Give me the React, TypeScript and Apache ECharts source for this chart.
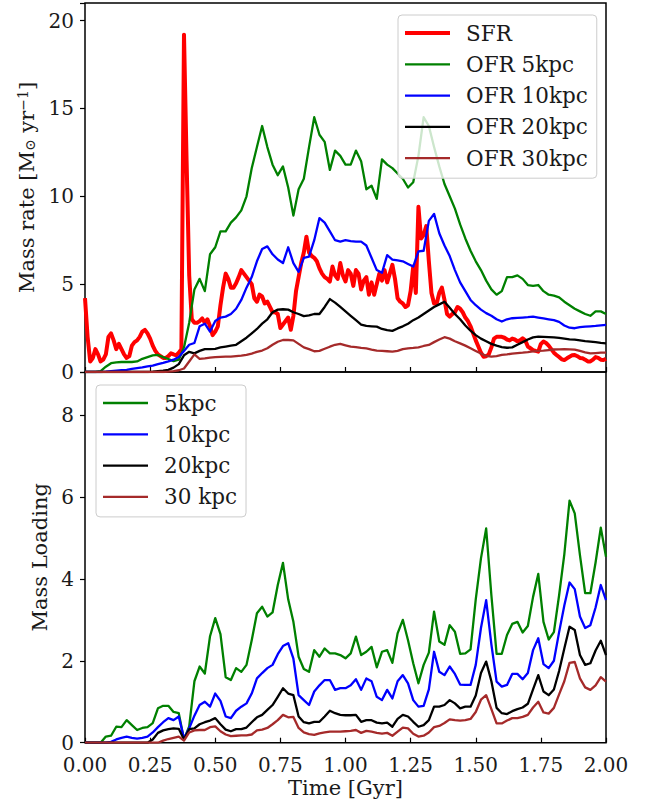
import React, { useEffect, useRef } from 'react';
import * as echarts from 'echarts';

const FONT = "'DejaVu Serif', 'Liberation Serif', serif";
const TXT = '#1a1a1a';

// SFR sampled every 0.01 Gyr (t = 0.00 ... 2.00)
const sfrStep = 0.01;
const sfr = [
  4.2, 2.0, 0.6, 0.8, 1.3, 1.0, 0.6, 0.7, 1.0, 2.0,
  2.2, 1.8, 1.3, 1.6, 1.3, 1.0, 0.8, 0.9, 1.5, 1.7,
  1.8, 2.0, 2.3, 2.4, 2.2, 1.9, 1.5, 1.2, 1.0, 0.9,
  0.8, 0.8, 0.9, 1.06, 1.0, 0.95, 1.1, 1.3, 19.2, 12.0,
  5.5, 3.0, 2.8, 2.8, 2.9, 3.05, 2.8, 3.0, 2.6, 2.1,
  2.3, 2.6, 3.8, 4.8, 5.6, 5.3, 4.8, 4.8, 5.05, 5.4,
  5.8, 5.6, 5.4, 5.2, 5.0, 4.2, 4.0, 4.4, 4.3, 3.9,
  4.0, 3.7, 3.4, 3.4, 3.3, 2.5, 2.7, 2.9, 3.1, 2.4,
  3.2, 4.6, 5.4, 6.2, 6.8, 7.7, 6.8, 6.6, 6.5, 6.3,
  5.9, 5.6, 5.4, 5.3, 5.15, 6.0, 5.5, 5.3, 6.2, 5.5,
  5.15, 5.8, 5.6, 4.9, 5.8, 5.6, 4.7, 5.2, 5.4, 4.4,
  5.1, 4.4, 5.0, 5.6, 5.2, 5.8, 5.1, 5.6, 6.1, 5.3,
  4.2, 4.0, 3.9, 3.7, 3.8, 4.6, 6.0, 4.5, 9.4, 7.6,
  7.8, 8.3, 6.3, 4.5, 3.9, 3.9, 4.5, 4.8, 4.1, 3.3,
  3.15, 3.3, 3.4, 3.7, 3.6, 3.4, 3.1, 2.9, 2.6, 2.2,
  1.8, 1.45, 1.1, 0.87, 0.9, 1.0, 1.4, 1.9, 2.0, 2.0,
  2.0, 1.95, 1.85, 1.8, 1.9, 1.85, 1.75, 1.8, 1.92, 1.8,
  1.45, 1.35, 1.25, 1.2, 1.16, 1.6, 1.73, 1.65, 1.5, 1.3,
  1.1, 0.97, 0.85, 0.72, 0.68, 0.78, 0.87, 0.95, 0.97, 0.9,
  0.8, 0.78, 0.7, 0.6, 0.6, 0.7, 0.85, 0.8, 0.7, 0.68,
  0.75,
];

// Other series sampled every 0.02 Gyr (t = 0.00 ... 2.00)
const step = 0.02;
const ofr5 = [
  0, 0, 0, 0.05, 0.3, 0.5, 0.55, 0.57, 0.57, 0.57,
  0.6, 0.75, 0.85, 0.95, 0.97, 0.85, 0.74, 0.62, 0.7, 1.4,
  2.8, 4.7, 5.3, 4.6, 6.7, 7.1, 8.0, 8.0, 8.5, 8.8,
  9.2, 10.0, 11.6, 12.8, 14.0, 12.8, 11.8, 11.2, 11.7, 10.5,
  8.9, 10.4, 11.0, 12.8, 14.5, 13.5, 13.1, 11.5, 12.6, 12.3,
  11.8, 11.8, 12.6, 12.0, 10.4, 10.6, 9.85, 12.1, 11.8, 11.6,
  11.3, 11.0, 10.5, 10.8, 12.3, 14.5, 14.0, 12.8, 11.7, 10.7,
  10.0, 9.3, 8.4, 7.6, 6.9, 6.3, 5.8, 5.2, 4.7, 4.4,
  4.6, 5.4, 5.4, 5.5, 5.3, 4.95, 4.9, 4.95, 4.6, 4.4,
  4.35, 4.25, 4.0, 3.8, 3.6, 3.45, 3.3, 3.2, 3.45, 3.45,
  3.3,
];
const ofr10 = [
  0, 0, 0, 0, 0.02, 0.05, 0.08, 0.1, 0.12, 0.18,
  0.22, 0.26, 0.32, 0.36, 0.45, 0.52, 0.6, 0.7, 0.85, 1.2,
  1.55, 1.65, 2.6, 2.75, 2.3, 2.9, 3.1, 3.15, 3.3, 3.6,
  4.1, 4.8, 5.4, 6.3, 7.0, 7.15, 6.7, 6.4, 6.2, 7.1,
  6.2, 5.7, 6.5, 6.57, 7.5, 8.76, 8.5, 8.0, 7.5, 7.42,
  7.5, 7.45, 7.42, 7.42, 7.2, 6.5, 5.8, 5.65, 6.65, 6.4,
  6.35, 6.3, 6.15, 6.0, 6.86, 6.9, 8.6, 9.0, 7.9, 7.2,
  6.6, 5.8, 5.1, 4.6, 4.1, 3.8, 3.55, 3.35, 3.2, 3.0,
  2.87, 3.0, 3.06, 3.08, 3.1, 3.12, 3.15, 3.1, 3.05, 3.0,
  2.95, 2.85, 2.65, 2.52, 2.49, 2.55, 2.58, 2.6, 2.62, 2.65,
  2.68,
];
const ofr20 = [
  0, 0, 0, 0, 0, 0, 0, 0, 0, 0,
  0, 0, 0, 0.02, 0.05, 0.08, 0.12, 0.25, 0.45, 0.95,
  1.15, 1.06, 1.2, 1.3, 1.3, 1.32, 1.4, 1.45, 1.5, 1.55,
  1.75, 1.95, 2.2, 2.45, 2.75, 3.0, 3.4, 3.55, 3.57, 3.55,
  3.4, 3.3, 3.18, 3.22, 3.3, 3.3, 3.7, 4.15, 3.95, 3.7,
  3.45, 3.2, 2.95, 2.7, 2.62, 2.6, 2.58, 2.45, 2.38, 2.34,
  2.48, 2.6, 2.75, 2.95, 3.1, 3.3, 3.5, 3.7, 3.85, 4.0,
  3.65, 3.3, 3.0, 2.65, 2.35, 2.1, 1.9, 1.75, 1.6, 1.5,
  1.42, 1.38, 1.4, 1.55, 1.7, 1.85, 1.97, 2.01, 2.0, 1.99,
  1.97, 1.94, 1.9, 1.86, 1.84, 1.8, 1.76, 1.73, 1.7, 1.66,
  1.63,
];
const ofr30 = [
  0, 0, 0, 0, 0, 0, 0, 0, 0, 0,
  0, 0, 0, 0, 0, 0, 0.02, 0.05, 0.1, 0.2,
  0.6, 1.0, 0.75, 0.78, 0.82, 0.85, 0.86, 0.87, 0.87, 0.9,
  0.93, 0.97, 1.05, 1.15, 1.22, 1.35, 1.55, 1.72, 1.82, 1.82,
  1.8, 1.6, 1.4, 1.3, 1.18, 1.2, 1.32, 1.44, 1.55, 1.6,
  1.52, 1.44, 1.42, 1.37, 1.35, 1.28, 1.22, 1.2, 1.18, 1.16,
  1.2, 1.3, 1.35, 1.37, 1.4, 1.48, 1.54, 1.7, 1.85, 1.98,
  1.9, 1.75, 1.63, 1.5, 1.35, 1.2, 1.05, 0.92, 0.87, 0.9,
  0.97, 1.0, 1.05, 1.08, 1.1, 1.13, 1.17, 1.2, 1.22, 1.25,
  1.28, 1.29, 1.3, 1.29, 1.27, 1.2, 1.12, 1.06, 1.08, 1.1,
  1.1,
];

const load5 = [
  0, 0, 0, 0, 0.15, 0.17, 0.39, 0.38, 0.55, 0.43,
  0.31, 0.36, 0.38, 0.48, 0.84, 0.9, 0.9, 0.75, 0.72, 0.08,
  0.4, 1.5, 1.86, 1.69, 2.6, 3.04, 2.65, 1.6, 1.53, 1.82,
  1.73, 1.9, 2.5, 3.16, 3.32, 3.08, 3.18, 3.85, 4.39, 3.5,
  2.95, 2.1, 1.8, 1.73, 2.26, 2.1, 2.3, 2.18, 2.18, 2.14,
  2.06, 2.18, 2.59, 2.14, 2.22, 2.34, 1.84, 2.22, 2.26, 1.95,
  2.67, 3.0, 2.5, 1.94, 1.45, 1.9, 2.2, 3.2, 2.47, 2.39,
  2.87, 2.71, 2.17, 2.18, 2.28, 3.5, 4.5, 5.23, 3.6, 2.17,
  2.17, 2.63, 2.9, 2.95, 2.69, 2.85, 3.56, 4.12, 2.95, 2.52,
  2.7, 3.6, 4.6, 5.91, 5.6, 4.58, 3.65, 3.65, 4.4, 5.25,
  4.54,
];
const load10 = [
  0, 0, 0, 0, 0, 0.02, 0.08, 0.12, 0.15, 0.12,
  0.1, 0.12, 0.15, 0.25, 0.38, 0.5, 0.6, 0.55, 0.64, 0.1,
  0.35, 0.66, 0.92, 1.0, 0.88, 1.2, 1.02, 0.64, 0.6, 0.78,
  0.88, 0.96, 1.2, 1.57, 1.7, 1.82, 1.9, 2.16, 2.36, 2.43,
  2.05, 1.16, 1.04, 0.92, 1.25, 1.4, 1.53, 1.53, 1.29, 1.33,
  1.33, 1.4, 1.55, 1.29, 1.57, 1.5, 1.12, 1.04, 1.29, 1.08,
  1.5, 1.65, 1.45, 1.04, 0.88, 0.9, 1.3, 2.22, 1.73, 1.65,
  1.86, 1.68, 1.42, 1.41, 1.41, 1.9, 2.8, 3.48, 2.4, 1.49,
  1.37, 1.41, 1.68, 1.68, 1.55, 1.7, 2.26, 2.55, 1.92, 1.82,
  2.0, 2.7, 3.35, 3.91, 3.75, 3.08, 2.8, 2.87, 3.3, 3.85,
  3.48,
];
const load20 = [
  0, 0, 0, 0, 0, 0, 0, 0, 0, 0,
  0, 0, 0, 0.08, 0.24, 0.3, 0.33, 0.35, 0.34, 0.08,
  0.33, 0.35, 0.45, 0.5, 0.54, 0.6, 0.45, 0.32, 0.28, 0.33,
  0.33, 0.37, 0.5, 0.62, 0.68, 0.8, 0.92, 1.12, 1.33, 1.2,
  1.16, 0.64, 0.5, 0.47, 0.51, 0.51, 0.64, 0.78, 0.72, 0.68,
  0.67, 0.67, 0.68, 0.51, 0.55, 0.55, 0.49, 0.47, 0.49, 0.39,
  0.58, 0.68, 0.64, 0.51, 0.39, 0.43, 0.55, 0.88, 0.88, 0.92,
  1.04, 0.96, 0.84, 0.88, 0.88, 1.15, 1.7, 1.98, 1.5, 0.85,
  0.72, 0.7, 0.77, 0.82, 0.86, 0.95, 1.3, 1.65, 1.25, 1.16,
  1.3, 1.75, 2.3, 2.83, 2.75, 2.14, 1.9, 1.94, 2.25, 2.49,
  2.14,
];
const load30 = [
  0, 0, 0, 0, 0, 0, 0, 0, 0, 0,
  0, 0, 0, 0, 0, 0.05, 0.09, 0.12, 0.15, 0.05,
  0.25, 0.3, 0.31, 0.31, 0.38, 0.4, 0.28, 0.2, 0.16, 0.17,
  0.18, 0.18, 0.2, 0.3, 0.32, 0.36, 0.45, 0.55, 0.68, 0.62,
  0.63, 0.36, 0.25, 0.21, 0.19, 0.23, 0.25, 0.27, 0.27, 0.27,
  0.28, 0.29, 0.31, 0.24, 0.29, 0.27, 0.24, 0.22, 0.24, 0.17,
  0.27, 0.37, 0.35, 0.22, 0.15, 0.17, 0.25, 0.38, 0.41, 0.48,
  0.57, 0.55, 0.54, 0.55, 0.58, 0.75, 1.05, 1.16, 0.82, 0.47,
  0.47, 0.54, 0.6, 0.6, 0.63, 0.68, 0.86, 1.0, 0.74, 0.71,
  0.85, 1.18, 1.5, 1.95, 1.97, 1.57, 1.35, 1.29, 1.4, 1.6,
  1.49,
];

const topNames = ['SFR', 'OFR 5kpc', 'OFR 10kpc', 'OFR 20kpc', 'OFR 30kpc'];
const bottomNames = ['5kpc', '10kpc', '20kpc', '30 kpc'];
const colors = ['#ff0000', '#008000', '#0000ff', '#000000', '#a52a2a'];
const lineColors = ['#008000', '#0000ff', '#000000', '#a52a2a'];

const THIN_ICON = 'path://M0,0H45V2.3H0Z';
const THICK_ICON = 'path://M0,0H45V4H0Z';

const toPairs = (vals: number[], dt: number) =>
  vals.map((v, i) => [+(i * dt).toFixed(3), v]);

export default function App() {
  const ref = useRef<HTMLDivElement>(null);
  useEffect(() => {
    document.body.style.margin = '0';
    if (!ref.current) return;
    const chart = echarts.init(ref.current, undefined, { renderer: 'svg' });

    const tickIn = { inside: true, length: 5, lineStyle: { color: '#000', width: 1.2 } };
    const tickOut = { inside: false, length: 5, lineStyle: { color: '#000', width: 1.2 } };
    const labelStyle = { fontFamily: FONT, fontSize: 20, color: TXT, lineHeight: 16 };
    const legendBase = {
      orient: 'vertical' as const,
      itemWidth: 45,
      itemHeight: 4,
      itemGap: 9.3,
      backgroundColor: 'rgba(255,255,255,0.8)',
      borderColor: '#cccccc',
      borderWidth: 1,
      borderRadius: 4,
      textStyle: { fontFamily: FONT, fontSize: 21.5, color: TXT, padding: [0, 0, 0, 11] },
    };
    const nameStyle = { fontFamily: FONT, fontSize: 21, color: TXT };

    const topData = [sfr, ofr5, ofr10, ofr20, ofr30];
    const botData = [load5, load10, load20, load30];

    const option: any = {
      animation: false,
      backgroundColor: '#ffffff',
      grid: [
        { left: 85, top: 3, width: 521, height: 369, show: true, borderColor: '#000', borderWidth: 1.5, backgroundColor: 'transparent' },
        { left: 85, top: 372, width: 521, height: 370.7, show: true, borderColor: '#000', borderWidth: 1.5, backgroundColor: 'transparent' },
      ],
      xAxis: [
        {
          type: 'value', gridIndex: 0, min: 0, max: 2, interval: 0.25,
          axisLine: { show: false }, axisTick: tickIn, axisLabel: { show: false }, splitLine: { show: false },
        },
        {
          type: 'value', gridIndex: 1, min: 0, max: 2, interval: 0.25,
          name: 'Time [Gyr]', nameLocation: 'middle', nameGap: 35,
          nameTextStyle: nameStyle,
          axisLine: { show: false }, axisTick: tickIn,
          axisLabel: { ...labelStyle, margin: 14, formatter: (v: number) => v.toFixed(2) },
          splitLine: { show: false },
        },
      ],
      yAxis: [
        {
          type: 'value', gridIndex: 0, min: 0, max: 21, interval: 5,
          name: 'Mass rate [M{sub|⊙} yr{sup|−1}]', nameLocation: 'middle', nameGap: 48, nameRotate: 90,
          nameTextStyle: {
            ...nameStyle,
            rich: {
              sub: { fontFamily: FONT, fontSize: 14, color: TXT, verticalAlign: 'bottom' },
              sup: { fontFamily: FONT, fontSize: 14, color: TXT, verticalAlign: 'top' },
            },
          },
          axisLine: { show: false }, axisTick: tickOut,
          axisLabel: { ...labelStyle, margin: 11, formatter: (v: number) => (v % 5 === 0 ? String(v) : '') },
          splitLine: { show: false },
        },
        {
          type: 'value', gridIndex: 1, min: 0, max: 9.05, interval: 2,
          name: 'Mass Loading', nameLocation: 'middle', nameGap: 33, nameRotate: 90,
          nameTextStyle: nameStyle,
          axisLine: { show: false }, axisTick: tickOut,
          axisLabel: { ...labelStyle, margin: 11, formatter: (v: number) => (v % 2 === 0 ? String(v) : '') },
          splitLine: { show: false },
        },
      ],
      legend: [
        {
          ...legendBase,
          data: topNames.map((n, i) => ({ name: n, icon: i === 0 ? THICK_ICON : THIN_ICON })),
          left: 398, top: 15, padding: [7, 9, 9, 7],
        },
        {
          ...legendBase,
          data: bottomNames.map((n) => ({ name: n, icon: THIN_ICON })),
          left: 96, top: 385, padding: [7, 9, 9, 7],
        },
      ],
      series: [
        ...topNames.map((n, i) => ({
          name: n, type: 'line', xAxisIndex: 0, yAxisIndex: 0,
          data: toPairs(topData[i], i === 0 ? sfrStep : step),
          symbol: 'none', showSymbol: false,
          color: colors[i],
          itemStyle: { color: colors[i] },
          lineStyle: { color: colors[i], width: i === 0 ? 4 : 2.3, join: 'round' },
          z: 2 + i,
        })),
        ...bottomNames.map((n, i) => ({
          name: n, type: 'line', xAxisIndex: 1, yAxisIndex: 1,
          data: toPairs(botData[i], step),
          symbol: 'none', showSymbol: false,
          color: lineColors[i],
          itemStyle: { color: lineColors[i] },
          lineStyle: { color: lineColors[i], width: 2.3, join: 'round' },
          z: 2 + i,
        })),
      ],
    };
    chart.setOption(option);
    return () => chart.dispose();
  }, []);
  return <div ref={ref} style={{ position: 'absolute', left: 0, top: 0, width: 651, height: 803 }} />;
}
